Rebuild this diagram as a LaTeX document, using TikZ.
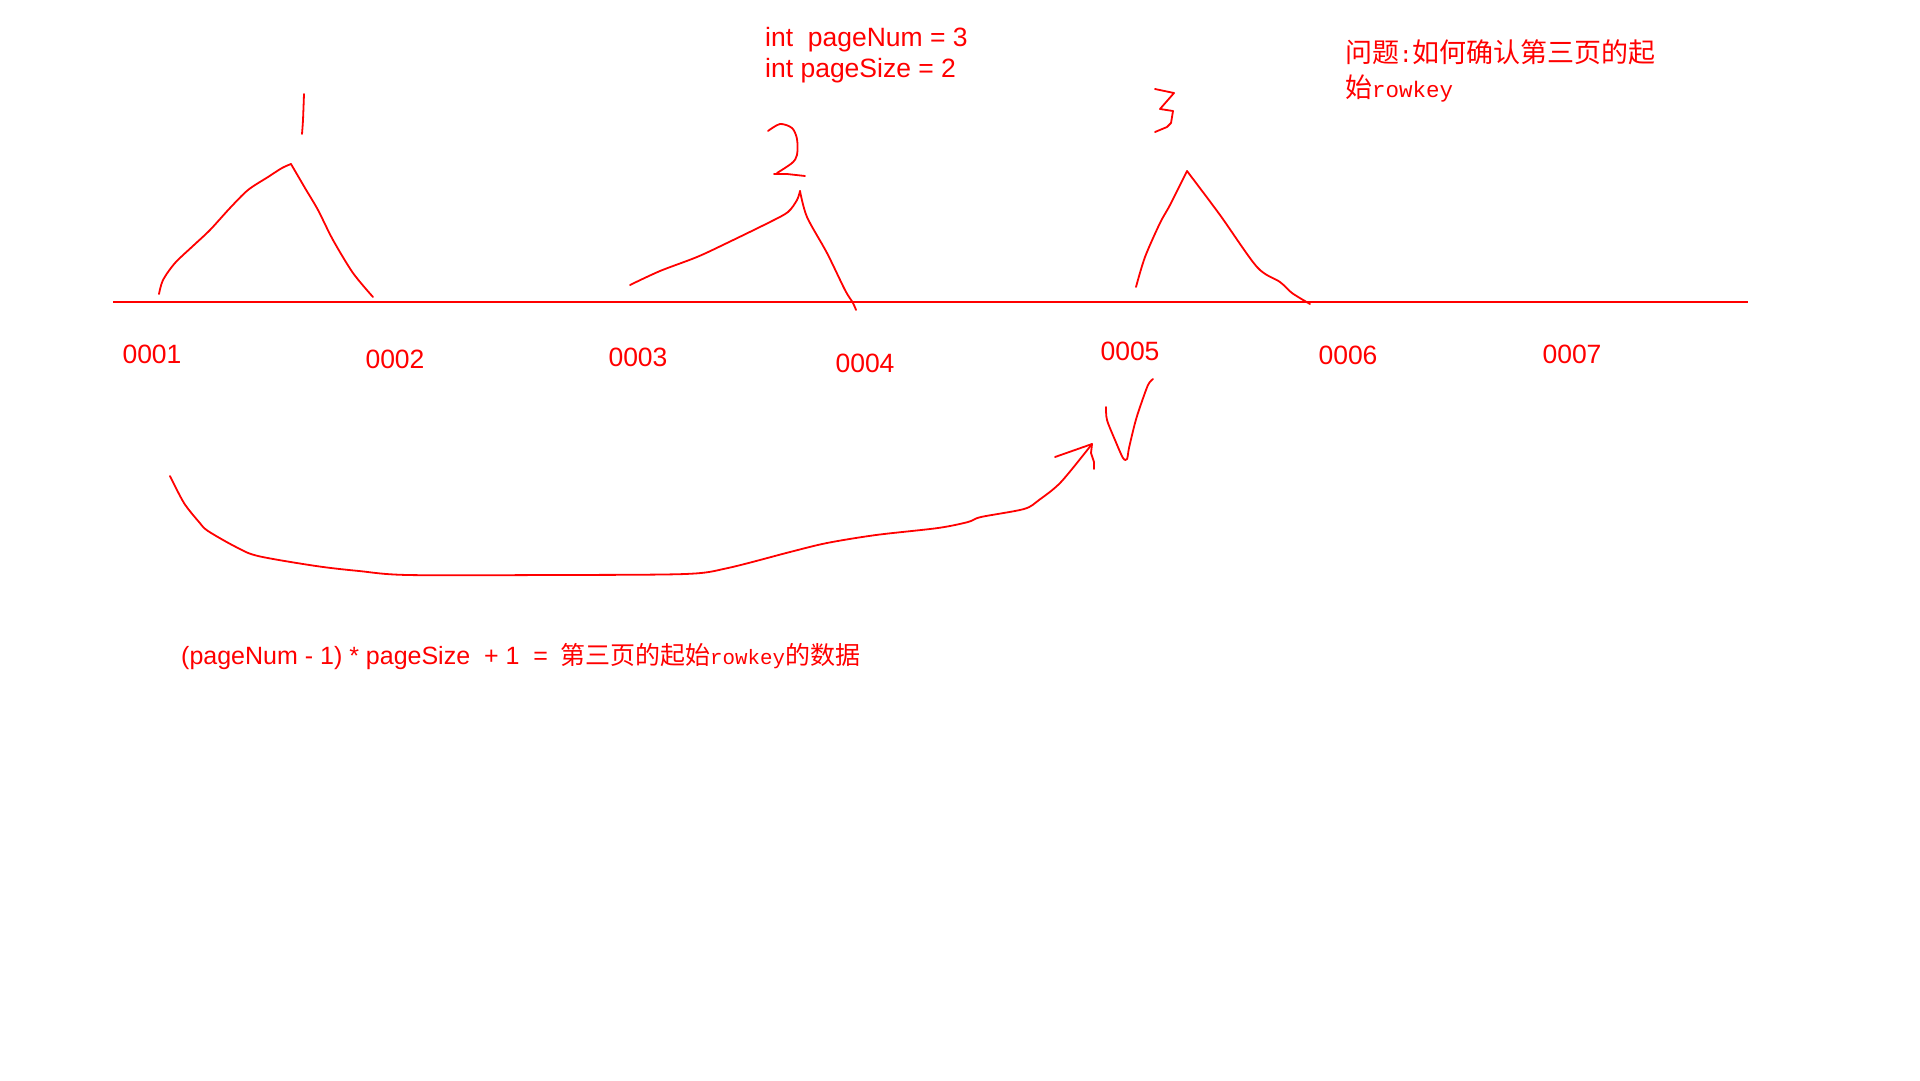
\documentclass[tikz,border=0pt]{standalone}
\usepackage{fontspec}
\usepackage{tikz}
\setmainfont{Liberation Sans}
\newfontfamily\cjk{Noto Sans CJK SC}
\newfontfamily\rkfont{Liberation Mono}
\definecolor{inkred}{RGB}{255,0,0}
\newcommand{\rk}[1]{{\rkfont\fontsize{#1}{#1}\selectfont rowkey}}

\begin{document}
\begin{tikzpicture}[x=1pt,y=-1pt,
    ink/.style={draw=inkred,line width=1.8pt,line cap=round,line join=round},
    lbl/.style={text=inkred,inner sep=0pt,anchor=base,font=\fontsize{26.5}{30}\selectfont},
    txt/.style={text=inkred,inner sep=0pt,anchor=base west,font=\fontsize{26.5}{30}\selectfont},
    zh/.style={text=inkred,inner sep=0pt,anchor=base west,font=\cjk\fontsize{27}{30}\selectfont}]

        \useasboundingbox (0,0) rectangle (1920,1080);

        % the row keys on one line
        \coordinate (axisL) at (113,302);
        \coordinate (axisR) at (1748,302);
        \draw[ink,line width=1.4pt,line cap=butt] (axisL) -- (axisR);

        \node[lbl] (k1) at (152,363) {0001};
        \node[lbl] (k2) at (395,368) {0002};
        \node[lbl] (k3) at (638,366) {0003};
        \node[lbl] (k4) at (865,372) {0004};
        \node[lbl] (k5) at (1130,360) {0005};
        \node[lbl] (k6) at (1348,364) {0006};
        \node[lbl] (k7) at (1572,363) {0007};

        % page size and number
        \node[txt] (cfg1) at (765,46) {int\ \ pageNum = 3};
        \node[txt] (cfg2) at (765,77) {int pageSize = 2};

        % question
        \node[zh] (ask1) at (1345,62) {问题{\rkfont\fontsize{22.5}{24}\selectfont :}如何确认第三页的起};
        \node[zh] (ask2) at (1345,97) {始\rk{22.5}};

        % formula
        \node[txt,font=\fontsize{25}{30}\selectfont] (fml) at (181,664) {(pageNum - 1) * pageSize\ \ + 1\ \ =};
        \node[zh,font=\cjk\fontsize{25}{30}\selectfont] (fmlzh) at (560,664) {第三页的起始\rk{20.8}的数据};

        % page 1
        \draw[ink] plot[smooth] coordinates {(159,294) (163,280) (175,263) (194,245) (210,230) (230,208) (248,190) (268,177) (282,168) (291,164)};
        \draw[ink] plot[smooth] coordinates {(291,164) (305,188) (318,210) (333,240) (353,273) (373,297)};
        \draw[ink] plot[smooth] coordinates {(304,94) (303,120) (302,134)};

        % page 2
        \draw[ink] plot[smooth] coordinates {(630,285) (660,271) (697,257) (727,243) (770,222) (788,212) (797,200) (800,191)};
        \draw[ink] plot[smooth] coordinates {(800,191) (807,217) (827,253) (845,290) (853,303) (856,310)};
        \draw[ink] plot[smooth] coordinates {(768,131) (780,124) (792,128) (797,139) (797,155) (792,163) (777,173)};
        \draw[ink] (774,174) -- (787,174) -- (805,176);

        % page 3
        \draw[ink] plot[smooth] coordinates {(1136,287) (1145,257) (1160,223) (1170,205) (1187,171)};
        \draw[ink] plot[smooth] coordinates {(1187,171) (1220,215) (1257,267) (1280,282) (1292,293) (1310,304)};
        \draw[ink] (1155,89) -- (1174,93) -- (1160,109) -- (1173,111) -- (1171,123) -- (1167,127) -- (1155,132);

        % tick under 0005
        \draw[ink] plot[smooth] coordinates {(1106,407) (1107,420) (1115,440) (1123,458) (1127,459) (1129,448) (1135,423) (1140,407) (1148,385) (1153,379)};

        % jump from 0001 to 0005
        \coordinate (jumpS) at (170,476);
        \coordinate (jumpE) at (1092,444);
        \draw[ink] plot[smooth] coordinates {(jumpS) (184,503) (199,522) (208,531) (236,547) (258,556) (316,566) (359,571) (408,575) (550,575) (685,574) (728,568) (790,552) (827,543) (876,535) (938,528) (968,522) (981,517) (1024,509) (1039,500) (1061,482) (jumpE)};
        \draw[ink] (1055,457) -- (jumpE) -- (1091,453) -- (1094,462) -- (1094,469);

\end{tikzpicture}
\end{document}
